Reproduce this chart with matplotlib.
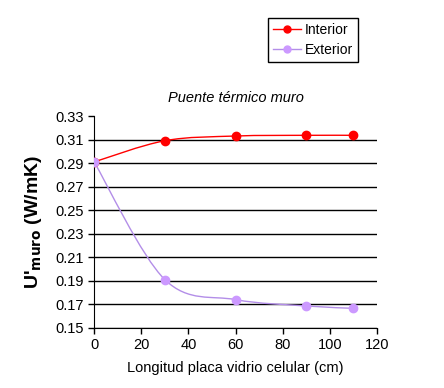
import matplotlib.pyplot as plt
from matplotlib.path import Path
from matplotlib.patches import PathPatch
from matplotlib.lines import Line2D

plt.rcParams['font.family'] = ['Liberation Sans', 'DejaVu Sans']

# data
longitud = [0, 30, 60, 90, 110]
u_interior = [0.291, 0.309, 0.313, 0.3136, 0.3136]
u_exterior = [0.291, 0.191, 0.174, 0.1686, 0.1666]
y_ticks = [0.15, 0.17, 0.19, 0.21, 0.23, 0.25, 0.27, 0.29, 0.31, 0.33]
x_ticks = [0, 20, 40, 60, 80, 100, 120]

col_int = '#ff0000'
col_ext = '#cc99ff'
line_ext = '#b38ee8'


def smooth_path(xs, ys):
    # catmull-rom style bezier like the spreadsheet "smoothed line"
    verts = [(xs[0], ys[0])]
    codes = [Path.MOVETO]
    n = len(xs)
    for i in range(n - 1):
        x0, y0 = (xs[i - 1], ys[i - 1]) if i > 0 else (xs[i], ys[i])
        x1, y1 = xs[i], ys[i]
        x2, y2 = xs[i + 1], ys[i + 1]
        x3, y3 = (xs[i + 2], ys[i + 2]) if i + 2 < n else (x2, y2)
        c1 = (x1 + (x2 - x0) / 6.0, y1 + (y2 - y0) / 6.0)
        c2 = (x2 - (x3 - x1) / 6.0, y2 - (y3 - y1) / 6.0)
        verts += [c1, c2, (x2, y2)]
        codes += [Path.CURVE4] * 3
    return Path(verts, codes)


fig = plt.figure(figsize=(4.44, 3.88), dpi=100)
ax = fig.add_axes([0.212, 0.155, 0.637, 0.546])

ax.add_patch(PathPatch(smooth_path(longitud, u_interior), fill=False,
                       edgecolor=col_int, lw=1.0, zorder=3))
ax.add_patch(PathPatch(smooth_path(longitud, u_exterior), fill=False,
                       edgecolor=line_ext, lw=1.0, zorder=3))
ax.plot(longitud, u_interior, ls='none', marker='o', ms=6, color=col_int, zorder=4)
ax.plot(longitud, u_exterior, ls='none', marker='o', ms=6, color=col_ext, zorder=4)

ax.set_xlim(0, 120)
ax.set_ylim(0.15, 0.33)
ax.set_xticks(x_ticks)
ax.set_yticks(y_ticks)
ax.set_yticklabels(['%.2f' % v for v in y_ticks])
ax.tick_params(direction='out', length=4, width=1, labelsize=10.5, colors='black')
ax.spines['right'].set_visible(False)
ax.spines['top'].set_visible(False)
ax.grid(axis='y', color='black', lw=1)
ax.get_ygridlines()[-1].set_visible(False)
ax.set_axisbelow(True)

ax.set_title('Puente térmico muro', fontsize=10.5, style='italic', pad=10)
ax.set_xlabel('Longitud placa vidrio celular (cm)', fontsize=10.5, labelpad=6)
ax.set_ylabel("U'$_{\\mathbf{muro}}$ (W/mK)", fontsize=14, fontweight='bold', labelpad=8)

handles = [Line2D([], [], color=col_int, marker='o', ms=5, lw=1),
           Line2D([], [], color=line_ext, marker='o', ms=5, mfc=col_ext, mec=col_ext, lw=1)]
fig.legend(handles, ['Interior', 'Exterior'], loc='upper left',
           bbox_to_anchor=(268 / 444, 1 - 18 / 388), borderaxespad=0, fontsize=10,
           frameon=True, fancybox=False, edgecolor='black', framealpha=1,
           handlelength=2.0, handletextpad=0.3, borderpad=0.35, labelspacing=0.45)
leg = fig.legends[0]
leg.get_frame().set_linewidth(1)

fig.savefig('out.png', dpi=100)
